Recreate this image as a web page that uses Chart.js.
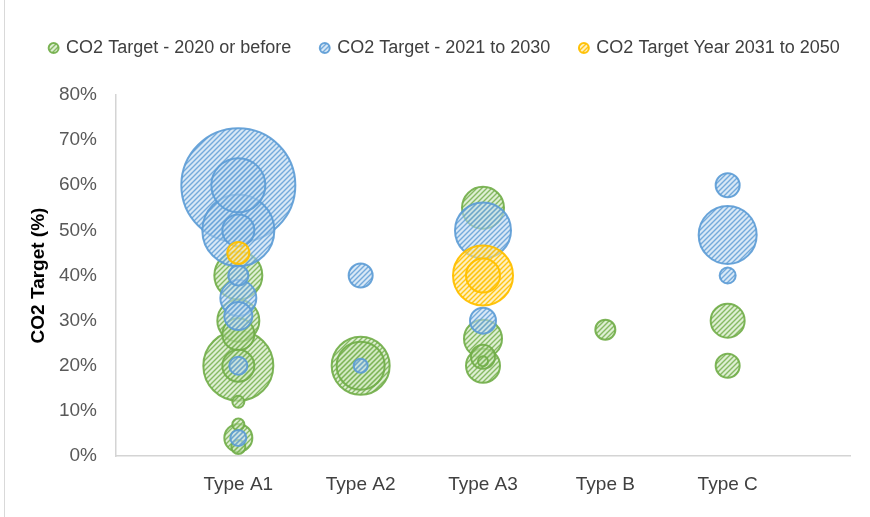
<!DOCTYPE html>
<html>
<head>
<meta charset="utf-8">
<script src="https://cdn.jsdelivr.net/npm/chart.js@4"></script>
<style>
  html,body{margin:0;padding:0;background:#fff;}
  #wrap{position:relative;width:870px;height:517px;}
  #edge{position:absolute;left:4px;top:0;width:1px;height:517px;background:#d9d9d9;}
  canvas{position:absolute;left:0;top:0;}
</style>
</head>
<body>
<div id="wrap"><div id="edge"></div><canvas id="c" width="870" height="517"></canvas></div>
<script>
// ---- data ----
const categories = ['Type A1', 'Type A2', 'Type A3', 'Type B', 'Type C'];
const seriesNames = ['CO2 Target - 2020 or before', 'CO2 Target - 2021 to 2030', 'CO2 Target Year 2031 to 2050'];
const yTickValues = [0, 10, 20, 30, 40, 50, 60, 70, 80];

// category number (1 = Type A1 ...), target %, bubble size
const greenCat   = [1, 1, 1, 1, 1, 1, 1, 1, 1, 2, 2, 3, 3, 3, 3, 3, 4, 5, 5];
const greenVal   = [20, 40, 30, 27, 20, 4, 2, 12, 7, 20, 20, 55, 26, 20, 22, 21, 28, 30, 20];
const greenSize  = [35, 24, 21, 16, 16, 14, 7, 6, 6, 29, 24, 21, 19, 17, 12, 5, 10, 17, 12];

const blueCat    = [1, 1, 1, 1, 1, 1, 1, 1, 1, 2, 2, 3, 3, 5, 5, 5];
const blueVal    = [60, 50, 60, 35, 50, 31, 40, 20, 4, 40, 20, 50, 30, 49, 60, 40];
const blueSize   = [57, 36, 27, 18, 16, 14, 10, 9, 8, 12, 7, 28, 13, 29, 12, 8];

const yellowCat  = [1, 3, 3];
const yellowVal  = [45, 40, 40];
const yellowSize = [11, 30, 17];

function points(cat, val, size) {
  return cat.map((c, i) => ({ x: c, y: val[i], r: size[i] }));
}

function hatch(bg, fg) {
  const s = 5;
  const c = document.createElement('canvas');
  c.width = s; c.height = s;
  const x = c.getContext('2d');
  x.fillStyle = bg; x.fillRect(0, 0, s, s);
  x.strokeStyle = fg; x.lineWidth = 1.4;
  x.beginPath();
  x.moveTo(0, s); x.lineTo(s, 0);
  x.moveTo(-1, 1); x.lineTo(1, -1);
  x.moveTo(s - 1, s + 1); x.lineTo(s + 1, s - 1);
  x.stroke();
  return x.createPattern(c, 'repeat');
}

const greenFill  = hatch('rgba(200,228,182,0.6)', 'rgba(112,173,71,0.8)');
const blueFill   = hatch('rgba(190,216,240,0.6)', 'rgba(91,155,213,0.8)');
const yellowFill = hatch('rgba(255,230,150,0.6)', 'rgba(255,192,0,0.9)');

const FONT = "'Liberation Sans', Arial, sans-serif";

const legendFix = {
  id: 'legendFix',
  beforeInit(chart) {
    const fit = chart.legend.fit;
    chart.legend.fit = function () { fit.call(this); this.height = 86; };
    const draw = chart.legend.draw;
    chart.legend.draw = function () {
      const ctx = this.ctx;
      ctx.save();
      ctx.translate(20, 0);
      draw.call(this);
      ctx.restore();
    };
  }
};

new Chart(document.getElementById('c'), {
  type: 'bubble',
  data: {
    datasets: [
      { label: seriesNames[0], data: points(greenCat, greenVal, greenSize), backgroundColor: greenFill, borderColor: 'rgba(112,173,71,0.9)', borderWidth: 2, order: 3 },
      { label: seriesNames[1], data: points(blueCat, blueVal, blueSize), backgroundColor: blueFill, borderColor: 'rgba(91,155,213,0.9)', borderWidth: 2, order: 2 },
      { label: seriesNames[2], data: points(yellowCat, yellowVal, yellowSize), backgroundColor: yellowFill, borderColor: 'rgba(255,192,0,0.95)', borderWidth: 2, order: 1 }
    ]
  },
  options: {
    responsive: false,
    animation: false,
    events: [],
    layout: { autoPadding: false, padding: { top: 9, right: 20, left: 0, bottom: 0 } },
    plugins: {
      tooltip: { enabled: false },
      legend: {
        position: 'top',
        labels: {
          usePointStyle: true,
          boxWidth: 7, boxHeight: 7,
          padding: 30,
          color: '#404040',
          font: { family: FONT, size: 18 },
          sort: (a, b) => a.datasetIndex - b.datasetIndex
        }
      }
    },
    scales: {
      x: {
        type: 'linear',
        min: 0, max: 6,
        grid: { display: false, drawTicks: false },
        border: { display: true, color: '#d4d4d4', width: 1.5 },
        afterBuildTicks: (s) => { s.ticks = categories.map((_, i) => ({ value: i + 1 })); },
        afterFit: (s) => { s.height = 61; },
        ticks: {
          autoSkip: false,
          maxRotation: 0,
          padding: 17,
          color: '#404040',
          font: { family: FONT, size: 19 },
          callback: (v) => categories[v - 1] || ''
        }
      },
      y: {
        type: 'linear',
        min: 0, max: 80,
        grid: { display: false, drawTicks: false },
        border: { display: true, color: '#d4d4d4', width: 1.5 },
        afterBuildTicks: (s) => { s.ticks = yTickValues.map(v => ({ value: v })); },
        afterFit: (s) => { s.width = 116; },
        ticks: {
          padding: 19,
          color: '#595959',
          font: { family: FONT, size: 19 },
          callback: (v) => v + '%'
        },
        title: {
          display: true,
          text: 'CO2 Target (%)',
          color: '#000',
          font: { family: FONT, size: 19, weight: 'bold' },
          padding: { top: 27, bottom: 4 }
        }
      }
    }
  },
  plugins: [legendFix]
});
</script>
</body>
</html>
